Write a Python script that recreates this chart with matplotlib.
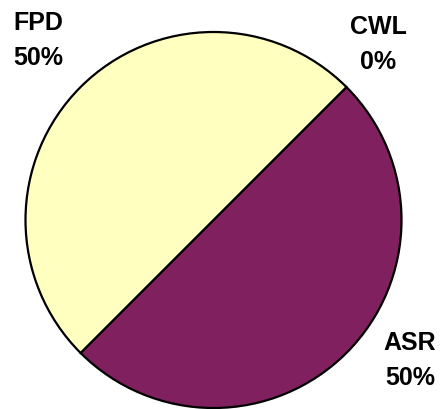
import matplotlib
matplotlib.use('Agg')
import matplotlib.pyplot as plt

# data
labels = ['CWL', 'ASR', 'FPD']
shares = [0, 50, 50]
colors = ['#FFFFFF', '#80205F', '#FFFFC0']

# label anchor points (pixels from top-left of figure)
label_pos = {'CWL': (378, 27), 'ASR': (410, 343), 'FPD': (38, 23)}
line_gap = 35

W, H = 443, 410
fig = plt.figure(figsize=(W/100., H/100.), dpi=100)
ax = fig.add_axes([0, 0, 1, 1])

ax.pie(shares, colors=colors, startangle=45, counterclock=False,
       center=(213.5, H-221), radius=188, frame=True,
       wedgeprops=dict(edgecolor='black', linewidth=1.6))
ax.set_xlim(0, W)
ax.set_ylim(0, H)
ax.set_aspect('equal')
ax.axis('off')

for lab, val in zip(labels, shares):
    x, y = label_pos[lab]
    ax.text(x, H-y, lab, ha='center', va='center', fontsize=18,
            fontweight='bold', family='Liberation Sans')
    ax.text(x, H-y-line_gap, '%d%%' % val, ha='center', va='center',
            fontsize=18, fontweight='bold', family='Liberation Sans')

fig.savefig('out.png', dpi=100)
